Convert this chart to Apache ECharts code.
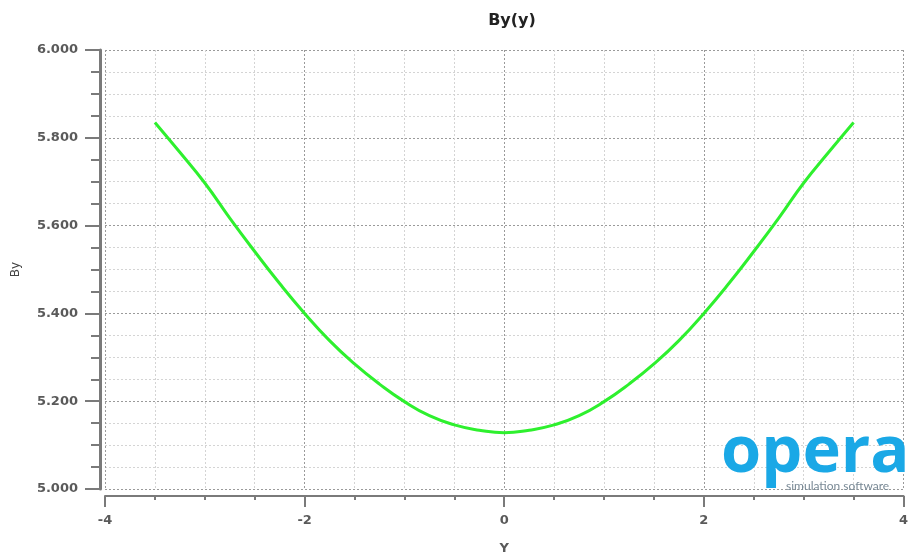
<!DOCTYPE html>
<html lang="en">
<head>
    <meta charset="UTF-8">
    <title>By(y)</title>
</head>
<body style="margin:0;">
<div id="chartBox" style="width: 911px;height: 560px;"></div>
<script type="text/javascript" src="https://cdn.jsdelivr.net/npm/echarts@6/dist/echarts.min.js"></script>
<script type="text/javascript">
    // values
    var yPos = [-3.5, -3.25, -3, -2.75, -2.5, -2.25, -2, -1.75, -1.5, -1.25, -1, -0.75, -0.5, -0.25, 0,
                0.25, 0.5, 0.75, 1, 1.25, 1.5, 1.75, 2, 2.25, 2.5, 2.75, 3, 3.25, 3.5];
    var byVals = [5.835, 5.767, 5.697, 5.617, 5.541, 5.468, 5.400, 5.338, 5.285, 5.239, 5.199, 5.167, 5.146, 5.134, 5.128,
                  5.134, 5.146, 5.167, 5.199, 5.239, 5.285, 5.338, 5.400, 5.468, 5.541, 5.617, 5.697, 5.767, 5.835];
    var yTicks = [5.0, 5.2, 5.4, 5.6, 5.8, 6.0];
    var xTicks = [-4, -2, 0, 2, 4];

    var points = [];
    for (var i = 0; i < yPos.length; i++) {
        points.push([yPos[i], byVals[i]]);
    }

    var myChart = echarts.init(document.getElementById("chartBox"));
    var labelFont = { fontFamily: 'DejaVu Sans', fontWeight: 'bold', fontSize: 13, color: '#5a5a5a' };

    myChart.setOption({
        animation: false,
        title: {
            text: 'By(y)',
            left: 507,
            top: 8,
            textAlign: 'center',
            textStyle: { fontFamily: 'DejaVu Sans', fontWeight: 'bold', fontSize: 16, color: '#222' }
        },
        grid: { left: 105, right: 3, top: 50, bottom: 65 },
        xAxis: {
            type: 'value',
            min: xTicks[0],
            max: xTicks[xTicks.length - 1],
            interval: 2,
            offset: 7,
            name: 'Y',
            nameLocation: 'middle',
            nameGap: 46,
            nameTextStyle: labelFont,
            axisLine: { onZero: false, lineStyle: { color: '#7a7a7a', width: 2 } },
            axisTick: { length: 11, lineStyle: { color: '#7a7a7a', width: 2 } },
            minorTick: { show: true, splitNumber: 4, length: 4, lineStyle: { color: '#7a7a7a', width: 2 } },
            axisLabel: Object.assign({ margin: 18 }, labelFont),
            splitLine: { show: true, lineStyle: { color: '#9a9a9a', type: [2, 2], width: 1 } },
            minorSplitLine: { show: true, lineStyle: { color: '#d4d4d4', type: [2, 2], width: 1 } }
        },
        yAxis: {
            type: 'value',
            min: yTicks[0],
            max: yTicks[yTicks.length - 1],
            interval: 0.2,
            offset: 5,
            name: 'By',
            nameLocation: 'middle',
            nameGap: 78,
            nameTextStyle: { fontFamily: 'DejaVu Sans', fontSize: 12, color: '#444' },
            axisLine: { show: true, onZero: false, lineStyle: { color: '#7a7a7a', width: 3 } },
            axisTick: { show: true, length: 15, lineStyle: { color: '#7a7a7a', width: 2 } },
            minorTick: { show: true, splitNumber: 4, length: 9, lineStyle: { color: '#7a7a7a', width: 2 } },
            axisLabel: Object.assign({
                margin: 22,
                formatter: function (v) { return v.toFixed(3); }
            }, labelFont),
            splitLine: { show: true, lineStyle: { color: '#9a9a9a', type: [2, 2], width: 1 } },
            minorSplitLine: { show: true, lineStyle: { color: '#d4d4d4', type: [2, 2], width: 1 } }
        },
        graphic: [
            {
                type: 'text', left: 721, top: 421, z: 10,
                style: { text: 'opera', font: 'bold 65px "Open Sans"', fill: '#1aa8e6' }
            },
            {
                type: 'text', left: 786, top: 480, z: 10,
                style: { text: 'simulation software', font: '12px Lato', fill: '#7a8a96' }
            }
        ],
        series: [{
            name: 'By',
            type: 'line',
            data: points,
            smooth: true,
            showSymbol: false,
            lineStyle: { color: '#2ef02e', width: 3 }
        }]
    });
</script>
</body>
</html>
